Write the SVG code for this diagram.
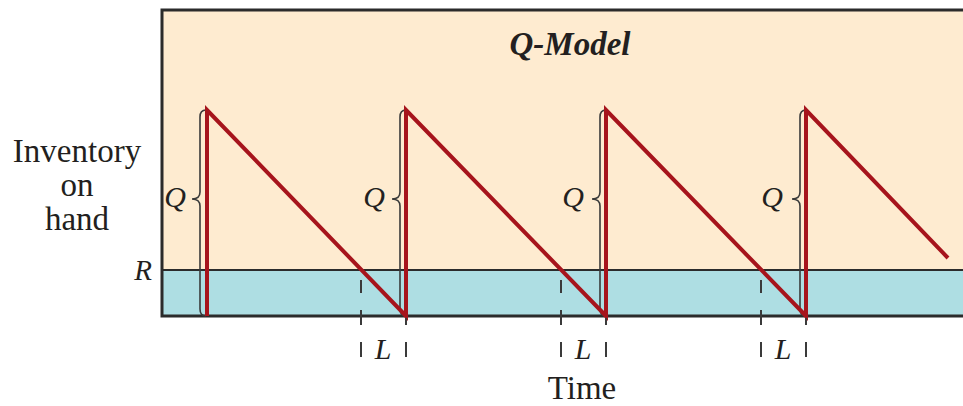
<svg xmlns="http://www.w3.org/2000/svg" width="963" height="406" viewBox="0 0 963 406">
<defs>
<style>
.lbl{font-family:"Liberation Serif","Times New Roman",serif;fill:#231f20}
.it{font-style:italic}
.brace{fill:none;stroke:#3a3a3a;stroke-width:1.6}
.dash{stroke:#3a3a3a;stroke-width:2}
.axis{stroke:#2b2b2b;stroke-width:3;fill:none}
.saw{fill:none;stroke:#a6141c;stroke-width:4;stroke-linejoin:miter}
</style>
<path id="br" class="brace" d="M6,0 Q0,0 0,7 L0,82 Q0,89 -8,89 Q0,89 0,96 L0,199 Q0,206 6,206"/>
</defs>
<rect width="963" height="406" fill="#ffffff"/>
<g id="chart">
<rect x="162" y="10" width="801" height="306" fill="#feebd0"/>
<rect x="162" y="270" width="801" height="46" fill="#aedee3"/>
<line x1="162" y1="270" x2="963" y2="270" stroke="#2b2b2b" stroke-width="2"/>
<path class="axis" d="M963,10 L162,10 L162,316 L963,316"/>
</g>
<g id="braces">
<use href="#br" x="200" y="110"/>
<use href="#br" x="400" y="110"/>
<use href="#br" x="600" y="110"/>
<use href="#br" x="800" y="110"/>
</g>
<g id="connectors">
<path class="saw" d="M207,316 L207,110 L406,316 L406,110 L606,316 L606,110 L806,316 L806,110 L948,258"/>
<g class="dash">
<path d="M361,280 V293 M361,310 V325 M361,342 V357 M406,318 V325 M406,342 V357"/>
<path d="M561,280 V293 M561,310 V325 M561,342 V357 M606,318 V325 M606,342 V357"/>
<path d="M761,280 V293 M761,310 V325 M761,342 V357 M806,318 V325 M806,342 V357"/>
</g>
</g>
<g id="labels">
<text class="lbl it" x="570" y="55" font-size="33" font-weight="bold" text-anchor="middle">Q-Model</text>
<text class="lbl" x="77" y="162" font-size="33" text-anchor="middle">Inventory</text>
<text class="lbl" x="77" y="196" font-size="33" text-anchor="middle">on</text>
<text class="lbl" x="77" y="230" font-size="33" text-anchor="middle">hand</text>
<text class="lbl it" x="152" y="280" font-size="29" text-anchor="end">R</text>
<text class="lbl it" x="175" y="207" font-size="30" text-anchor="middle">Q</text>
<text class="lbl it" x="374" y="207" font-size="30" text-anchor="middle">Q</text>
<text class="lbl it" x="573" y="207" font-size="30" text-anchor="middle">Q</text>
<text class="lbl it" x="772" y="207" font-size="30" text-anchor="middle">Q</text>
<text class="lbl it" x="383" y="359" font-size="30" text-anchor="middle">L</text>
<text class="lbl it" x="583" y="359" font-size="30" text-anchor="middle">L</text>
<text class="lbl it" x="783" y="359" font-size="30" text-anchor="middle">L</text>
<text class="lbl" x="582" y="399" font-size="33" text-anchor="middle">Time</text>
</g>
</svg>
